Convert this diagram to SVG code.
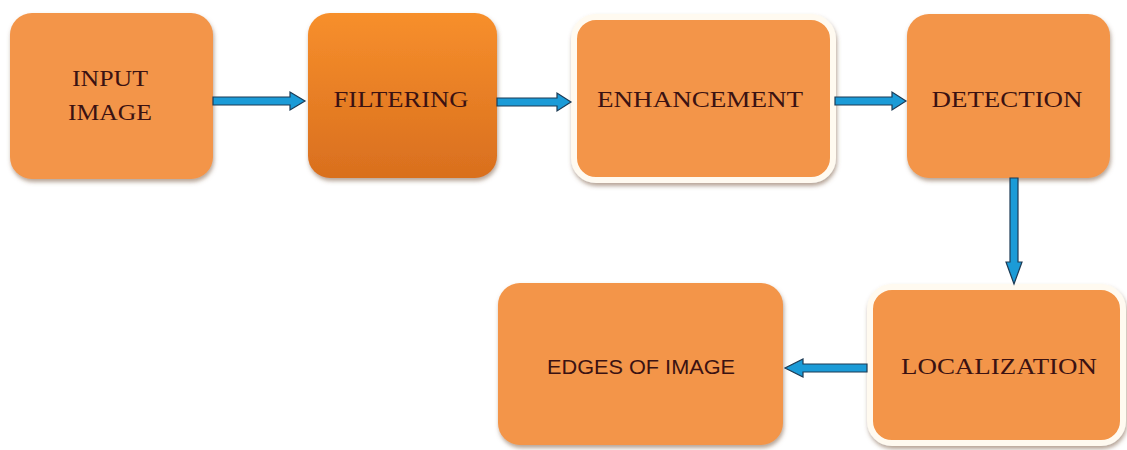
<svg xmlns="http://www.w3.org/2000/svg" width="1127" height="450" viewBox="0 0 1127 450">
<defs>
<linearGradient id="gFilt" x1="0" y1="0" x2="0" y2="1">
<stop offset="0" stop-color="#f78f2c"/>
<stop offset="1" stop-color="#d96f1e"/>
</linearGradient>
<filter id="sh" x="-10%" y="-10%" width="125%" height="125%">
<feDropShadow dx="1" dy="3" stdDeviation="2" flood-color="#7a5a40" flood-opacity="0.55"/>
</filter>
</defs>
<style>
.box{fill:#f39548;filter:url(#sh)}
.framed{fill:#f39548;stroke:#fffaf0;stroke-width:6;filter:url(#sh)}
.t{font-family:"Liberation Serif","DejaVu Serif",serif;font-size:24px;fill:#3b1212;text-anchor:middle}
.ts{font-family:"Liberation Sans","DejaVu Sans",sans-serif;font-size:21px;fill:#3b1212;text-anchor:middle}
.arr{fill:#1b9bd7;stroke:#1d3b55;stroke-width:1.2;stroke-linejoin:miter}
</style>
<rect width="1127" height="450" fill="#ffffff"/>
<g id="input-image">
<rect class="box" x="10" y="13" width="203" height="166" rx="22"/>
<text class="t" x="110" y="86" textLength="76" lengthAdjust="spacingAndGlyphs">INPUT</text>
<text class="t" x="110" y="120" textLength="84" lengthAdjust="spacingAndGlyphs">IMAGE</text>
</g>
<g id="filtering">
<rect x="308" y="13" width="189" height="165" rx="22" fill="url(#gFilt)" filter="url(#sh)"/>
<text class="t" x="401" y="107" textLength="135" lengthAdjust="spacingAndGlyphs">FILTERING</text>
</g>
<g id="enhancement">
<rect class="framed" x="574" y="17" width="259" height="163" rx="22"/>
<text class="t" x="700" y="107" textLength="206" lengthAdjust="spacingAndGlyphs">ENHANCEMENT</text>
</g>
<g id="detection">
<rect class="box" x="907" y="14" width="203" height="164" rx="22"/>
<text class="t" x="1007" y="107" textLength="151" lengthAdjust="spacingAndGlyphs">DETECTION</text>
</g>
<g id="localization">
<rect class="framed" x="870" y="287" width="253" height="156" rx="22"/>
<text class="t" x="999" y="374" textLength="196" lengthAdjust="spacingAndGlyphs">LOCALIZATION</text>
</g>
<g id="edges-of-image">
<rect class="box" x="498" y="283" width="285" height="162" rx="22"/>
<text class="ts" x="641" y="374" textLength="188" lengthAdjust="spacingAndGlyphs">EDGES OF IMAGE</text>
</g>
<g id="connectors">
<path class="arr" d="M213,97 L290,97 L290,92 L305,101 L290,110 L290,105 L213,105 Z"/>
<path class="arr" d="M497,98 L557,98 L557,93 L571,102 L557,111 L557,106 L497,106 Z"/>
<path class="arr" d="M835,97 L892,97 L892,92 L906,101 L892,110 L892,105 L835,105 Z"/>
<path class="arr" d="M1010,178 L1018,178 L1018,262 L1022,262 L1014,284 L1006,262 L1010,262 Z"/>
<path class="arr" d="M867,364 L803,364 L803,359 L785,368 L803,377 L803,372 L867,372 Z"/>
</g>
</svg>
